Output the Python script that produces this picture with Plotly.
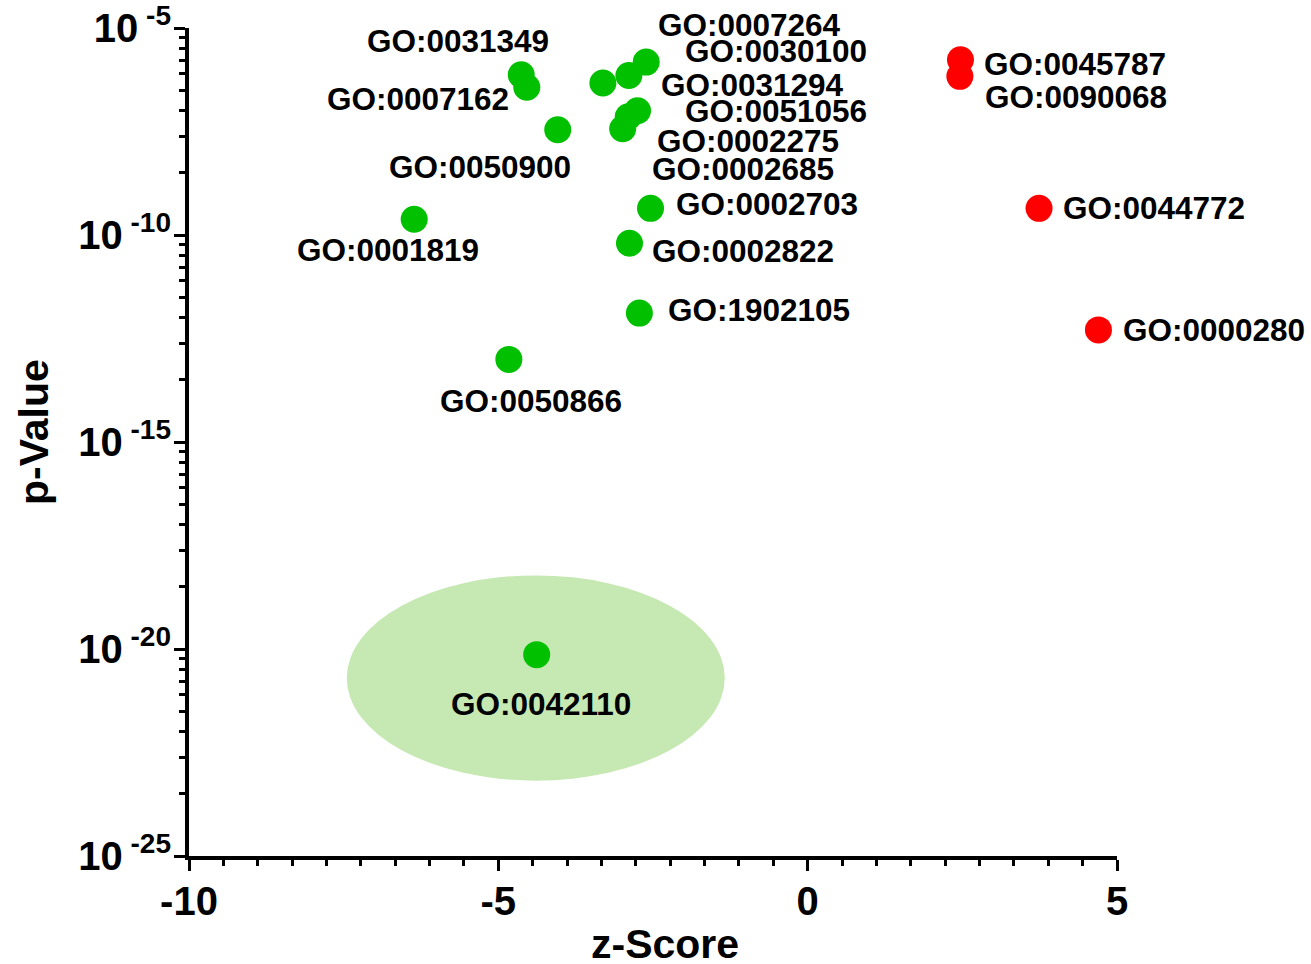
import math
import plotly.graph_objects as go

# GO terms with negative z-score (down-regulated)
down_terms = ["GO:0031349", "GO:0007162", "GO:0050900", "GO:0007264", "GO:0030100",
              "GO:0031294", "GO:0051056", "GO:0002275", "GO:0002685", "GO:0002703",
              "GO:0002822", "GO:1902105", "GO:0050866", "GO:0001819", "GO:0042110"]
down_z = [-4.63, -4.54, -4.04, -2.61, -2.89, -3.31, -2.75, -2.90, -2.99, -2.54,
          -2.88, -2.72, -4.83, -6.36, -4.38]
down_p = [7.4e-7, 3.7e-7, 3.5e-8, 1.5e-6, 7.1e-7, 4.7e-7, 1.0e-7, 7.2e-8, 3.7e-8, 4.4e-10,
          6.3e-11, 1.3e-12, 9.9e-14, 2.4e-10, 7.3e-21]

# GO terms with positive z-score (up-regulated)
up_terms = ["GO:0045787", "GO:0090068", "GO:0044772", "GO:0000280"]
up_z = [2.47, 2.46, 3.74, 4.70]
up_p = [1.7e-6, 6.8e-7, 4.4e-10, 5.1e-13]

# axis ticks
x_ticks = [-10, -5, 0, 5]
y_exponents = [-25, -20, -15, -10, -5]

# label offsets from each marker, in pixels (dx, dy)
down_offsets = [(-63, 34), (-109, -12), (-78, -37), (103, 37), (147, 25),
                (150, -2), (138, 0), (120, -24), (120, -40), (116, 4),
                (114, -8), (120, 3), (22, -42), (-26, -31), (4, -49)]
up_offsets = [(115, -4), (116, -21), (115, 0), (116, 0)]

FONT = "Liberation Sans, Arial, Helvetica, sans-serif"
GREEN = "#00c000"
RED = "#ff0000"

fig = go.Figure()

fig.add_trace(go.Scatter(
    x=down_z, y=down_p, mode="markers", text=down_terms,
    marker=dict(size=27, color=GREEN, line=dict(width=0)),
    showlegend=False,
))
fig.add_trace(go.Scatter(
    x=up_z, y=up_p, mode="markers", text=up_terms,
    marker=dict(size=27, color=RED, line=dict(width=0)),
    showlegend=False,
))

# highlight ellipse around the most significant term
fig.add_shape(type="circle", xref="x", yref="y",
              x0=-7.45, x1=-1.34, y0=6.6e-24, y1=6.0e-19,
              fillcolor="#c6e9b3", line=dict(width=0), layer="below")

annotations = []
for terms, zs, ps, offs in ((down_terms, down_z, down_p, down_offsets),
                            (up_terms, up_z, up_p, up_offsets)):
    for t, z, p, (dx, dy) in zip(terms, zs, ps, offs):
        annotations.append(dict(
            x=z, y=math.log10(p), xref="x", yref="y", text=t, showarrow=False,
            xanchor="center", yanchor="middle", xshift=dx, yshift=dy,
            font=dict(family=FONT, size=31.5, color="black", weight="bold"),
        ))

# axis titles
annotations.append(dict(
    x=0.513, y=0, xref="paper", yref="paper", yanchor="top", xanchor="center",
    yshift=-63, text="z-Score", showarrow=False,
    font=dict(family=FONT, size=41, color="black", weight="bold"),
))
annotations.append(dict(
    x=0, y=0.512, xref="paper", yref="paper", xanchor="center", yanchor="middle",
    xshift=-155, text="p-Value", showarrow=False, textangle=-90,
    font=dict(family=FONT, size=41, color="black", weight="bold"),
))

# log-spaced minor ticks within each 5-decade interval
minor_y = [10.0 ** e * k ** 5 for e in (-25, -20, -15, -10) for k in range(2, 10)]

fig.update_layout(
    width=1311, height=964,
    margin=dict(l=189, r=194, t=28, b=108, autoexpand=False),
    paper_bgcolor="white", plot_bgcolor="white",
    font=dict(family=FONT, color="black"),
    annotations=annotations,
    xaxis=dict(
        range=[-10, 5], tickmode="array", tickvals=x_ticks,
        ticktext=[str(v) for v in x_ticks], automargin=False,
        showgrid=False, zeroline=False,
        showline=True, linecolor="black", linewidth=4,
        ticks="outside", ticklen=11, tickwidth=3, tickcolor="black",
        ticklabelstandoff=-4,
        tickfont=dict(family=FONT, size=40, color="black", weight="bold"),
        minor=dict(tick0=-10, dtick=5 / 9, ticks="outside", ticklen=6,
                   tickwidth=3, tickcolor="black", showgrid=False),
    ),
    yaxis=dict(
        type="log", range=[-25, -5], tickmode="array",
        tickvals=[10.0 ** e for e in y_exponents],
        ticktext=["10<sup> %d</sup>" % e for e in y_exponents], automargin=False,
        showgrid=False, zeroline=False,
        showline=True, linecolor="black", linewidth=4,
        ticks="outside", ticklen=11, tickwidth=3, tickcolor="black",
        ticklabelstandoff=-5,
        tickfont=dict(family=FONT, size=40, color="black", weight="bold"),
        minor=dict(tickmode="array", tickvals=minor_y, ticks="outside",
                   ticklen=6, tickwidth=3, tickcolor="black", showgrid=False),
    ),
)

fig.write_html("out.html")
